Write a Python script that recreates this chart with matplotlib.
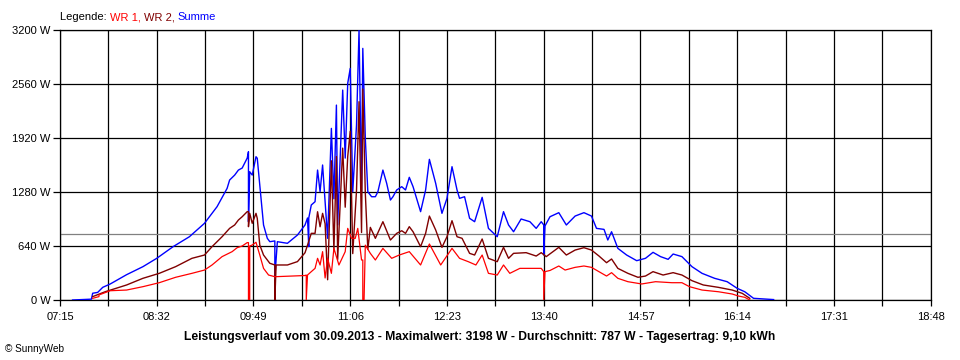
import matplotlib
matplotlib.use("Agg")
import matplotlib.pyplot as plt
from matplotlib.ticker import FixedLocator

plt.rcParams['font.family'] = ['Liberation Sans', 'DejaVu Sans']


def mins(s):
    h, m = s.split(":")
    return int(h) * 60 + int(m)


# Summe (blue)
t_summe = ["07:25", "07:40", "07:41", "07:45", "07:49", "07:55", "08:08", "08:21", "08:32", "08:45",
           "08:58", "09:10", "09:20", "09:28", "09:30", "09:34", "09:37", "09:40", "09:44", "09:45",
           "09:45", "09:46", "09:48", "09:51", "09:52", "09:54", "09:57", "10:00", "10:02", "10:06",
           "10:06", "10:08", "10:16", "10:24", "10:30", "10:32", "10:33", "10:33", "10:35", "10:38",
           "10:40", "10:42", "10:44", "10:46", "10:48", "10:51", "10:53", "10:55", "10:56", "11:00",
           "11:02", "11:04", "11:06", "11:08", "11:11", "11:13", "11:15", "11:16", "11:18", "11:20",
           "11:23", "11:26", "11:28", "11:32", "11:35", "11:38", "11:40", "11:43", "11:47", "11:50",
           "11:53", "11:56", "12:02", "12:06", "12:09", "12:14", "12:19", "12:23", "12:27", "12:31",
           "12:33", "12:37", "12:41", "12:45", "12:51", "12:56", "13:03", "13:08", "13:12", "13:16",
           "13:22", "13:29", "13:34", "13:38", "13:40", "13:40", "13:41", "13:45", "13:52", "13:58",
           "14:05", "14:12", "14:18", "14:22", "14:28", "14:31", "14:34", "14:39", "14:46", "14:54",
           "15:01", "15:07", "15:13", "15:19", "15:23", "15:30", "15:38", "15:46", "15:56", "16:06",
           "16:14", "16:20", "16:27", "16:43"]
summe = [0, 10, 80, 90, 150, 190, 300, 395, 494, 632,
         750, 909, 1106, 1323, 1422, 1480, 1540, 1564, 1682, 1757,
         928, 1520, 1481, 1698, 1680, 1363, 889, 731, 691, 700,
         270, 691, 672, 770, 889, 972, 632, 972, 1126, 1165,
         1540, 1283, 1600, 1165, 731, 2034, 1200, 2310, 889, 2488,
         1682, 2568, 2745, 1283, 2074, 3198, 1283, 2982, 1916, 1283,
         1224, 1224, 1283, 1540, 1383, 1185, 1224, 1304, 1343, 1304,
         1454, 1343, 1047, 1304, 1667, 1383, 1027, 1205, 1580, 1304,
         1205, 1224, 968, 928, 1217, 849, 750, 1047, 889, 809,
         960, 928, 849, 928, 890, 533, 877, 987, 1035, 889,
         995, 1035, 995, 849, 837, 711, 809, 612, 533, 466,
         494, 565, 514, 482, 545, 514, 395, 316, 257, 217,
         138, 98, 20, 5]

# WR 1 (red)
t_wr1 = ["07:41", "07:46", "07:46", "07:55", "08:08", "08:21", "08:34", "08:47", "09:00", "09:10",
         "09:16", "09:24", "09:32", "09:36", "09:40", "09:44", "09:45", "09:45", "09:46", "09:46",
         "09:48", "09:51", "09:54", "09:57", "10:01", "10:06", "10:30", "10:31", "10:31", "10:32",
         "10:35", "10:38", "10:40", "10:42", "10:44", "10:46", "10:48", "10:51", "10:53", "10:57",
         "11:02", "11:04", "11:07", "11:10", "11:12", "11:15", "11:16", "11:16", "11:17", "11:18",
         "11:22", "11:26", "11:32", "11:39", "11:45", "11:53", "12:02", "12:09", "12:18", "12:27",
         "12:33", "12:40", "12:46", "12:51", "12:56", "13:03", "13:08", "13:13", "13:21", "13:38",
         "13:40", "13:40", "13:41", "13:45", "13:52", "13:57", "14:05", "14:12", "14:18", "14:23",
         "14:30", "14:34", "14:39", "14:47", "14:58", "15:09", "15:22", "15:30", "15:36", "15:46",
         "15:59", "16:10", "16:15", "16:20", "16:24"]
wr1 = [20, 40, 60, 110, 118, 158, 205, 269, 316, 355,
       415, 514, 573, 620, 640, 680, 680, 0, 0, 640,
       652, 684, 533, 375, 296, 276, 290, 296, 0, 296,
       336, 375, 494, 415, 573, 261, 494, 316, 612, 415,
       573, 849, 731, 731, 849, 474, 474, 0, 0, 650,
       553, 474, 612, 494, 533, 573, 415, 664, 415, 612,
       494, 454, 415, 533, 316, 296, 415, 316, 375, 375,
       336, 0, 336, 350, 403, 355, 387, 403, 387, 344,
       284, 324, 257, 217, 190, 217, 205, 205, 158, 118,
       98, 71, 47, 32, 0]

# WR 2 (dark red)
t_wr2 = ["07:41", "07:51", "08:08", "08:21", "08:34", "08:47", "09:00", "09:10", "09:16", "09:24",
         "09:30", "09:34", "09:37", "09:40", "09:44", "09:45", "09:45", "09:46", "09:48", "09:51",
         "09:52", "09:54", "09:57", "10:02", "10:06", "10:06", "10:07", "10:16", "10:24", "10:30",
         "10:32", "10:35", "10:38", "10:40", "10:42", "10:44", "10:46", "10:48", "10:51", "10:53",
         "10:55", "10:56", "11:00", "11:02", "11:04", "11:06", "11:08", "11:11", "11:13", "11:15",
         "11:16", "11:18", "11:20", "11:22", "11:26", "11:32", "11:38", "11:43", "11:47", "11:50",
         "11:53", "11:56", "12:02", "12:06", "12:09", "12:14", "12:19", "12:23", "12:27", "12:31",
         "12:35", "12:41", "12:45", "12:51", "12:56", "13:03", "13:08", "13:12", "13:16", "13:26",
         "13:34", "13:38", "13:42", "13:52", "13:58", "14:05", "14:12", "14:18", "14:24", "14:30",
         "14:34", "14:39", "14:47", "14:55", "15:01", "15:07", "15:15", "15:23", "15:30", "15:38",
         "15:47", "15:59", "16:10", "16:18", "16:24"]
wr2 = [40, 98, 178, 257, 316, 395, 494, 533, 632, 750,
       849, 889, 948, 987, 1047, 1047, 869, 1027, 909, 1027,
       968, 652, 533, 435, 415, 0, 415, 415, 455, 560,
       650, 790, 790, 1046, 868, 1027, 904, 240, 1650, 588,
       1700, 480, 1800, 1100, 1700, 2000, 550, 1300, 2350, 800,
       2500, 1266, 600, 861, 731, 928, 711, 790, 821, 790,
       869, 809, 632, 790, 995, 830, 624, 750, 940, 750,
       731, 553, 533, 723, 494, 454, 624, 494, 553, 561,
       521, 561, 514, 624, 533, 592, 620, 592, 521, 442,
       486, 375, 316, 269, 284, 336, 296, 324, 296, 229,
       178, 150, 118, 79, 20]

avg = 787
x_labels = ["07:15", "08:32", "09:49", "11:06", "12:23", "13:40", "14:57", "16:14", "17:31", "18:48"]
y_ticks = [0, 640, 1280, 1920, 2560, 3200]

fig = plt.figure(figsize=(9.6, 3.6), dpi=100)
ax = fig.add_axes([60 / 960, 60 / 360, 870.7 / 960, 270 / 360])

x_major = [mins(s) for s in x_labels]
x_minor = [a + 38.5 for a in x_major[:-1]]
ax.set_xlim(x_major[0], x_major[-1])
ax.set_ylim(0, 3200)

for x in x_major + x_minor:
    ax.axvline(x, color="black", lw=0.9, zorder=1)
for y in y_ticks:
    ax.axhline(y, color="black", lw=0.9, zorder=1)
ax.axhline(avg, color="#808080", lw=0.9, zorder=1)

ax.plot([mins(s) for s in t_summe], summe, color="#0000ff", lw=1.0, zorder=3)
ax.plot([mins(s) for s in t_wr2], wr2, color="#800000", lw=1.0, zorder=4)
ax.plot([mins(s) for s in t_wr1], wr1, color="#ff0000", lw=0.9, zorder=5)

ax.xaxis.set_major_locator(FixedLocator(x_major))
ax.xaxis.set_minor_locator(FixedLocator(x_minor))
ax.set_xticklabels(x_labels)
ax.set_yticks(y_ticks)
ax.set_yticklabels([f"{v} W" for v in y_ticks])
ax.tick_params(axis="x", which="both", length=4, width=0.9, pad=5, labelsize=8)
ax.tick_params(axis="y", length=5, width=0.9, pad=2, labelsize=8)
for s in ax.spines.values():
    s.set_linewidth(0.9)

# legend line on top
fig.canvas.draw()
r = fig.canvas.get_renderer()
x0 = 60 / 960
for txt, col in [("Legende: ", "black"), ("WR 1, ", "#ff0000"), ("WR 2, ", "#800000"), ("Summe", "#0000ff")]:
    t = fig.text(x0, 1 - 17 / 360, txt, color=col, fontsize=8, va="center", ha="left")
    bb = t.get_window_extent(renderer=r)
    x0 += bb.width / fig.bbox.width

fig.text(0.5, 1 - 337 / 360, "Leistungsverlauf vom 30.09.2013 - Maximalwert: 3198 W - Durchschnitt: 787 W - Tagesertrag: 9,10 kWh",
         fontsize=8.7, fontweight="bold", ha="center", va="center")
fig.text(5 / 960, 1 - 349 / 360, "© SunnyWeb", fontsize=7.2, ha="left", va="center")

fig.savefig("out.png", dpi=100)
